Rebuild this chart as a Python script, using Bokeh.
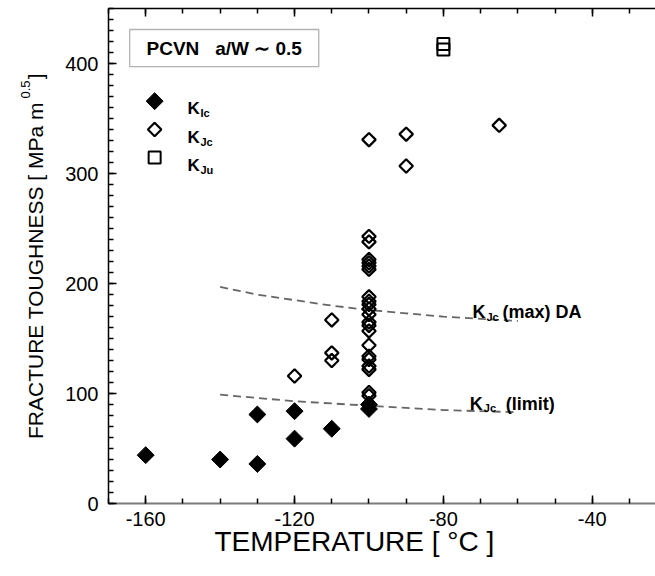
import numpy as np
from bokeh.plotting import figure
from bokeh.models import (LinearAxis, SingleIntervalTicker, PrintfTickFormatter,
                          CustomJSTickFormatter, Label, BoxAnnotation, Range1d, Title)
from bokeh.embed import file_html
from bokeh.resources import INLINE

# ---------------- data ----------------
kic_temp = [-160, -140, -130, -130, -120, -120, -110, -100, -100]
kic_val = [44, 40, 36, 81, 84, 59, 68, 86, 90]

kjc_temp = [-120, -110, -110, -110,
            -100, -100, -100, -100, -100, -100, -100, -100, -100, -100, -100,
            -100, -100, -100, -100, -100, -100, -100, -100, -100, -100, -100,
            -90, -90, -65]
kjc_val = [116, 167, 137, 130,
           331, 243, 238, 222, 219, 216, 213, 188, 184, 181, 177, 172,
           165, 162, 157, 144, 134, 131, 125, 122, 101, 98,
           336, 307, 344]

kju_temp = [-80, -80]
kju_val = [413, 418]

curve_temp = [-140, -130, -120, -110, -100, -90, -80, -70, -60]
kjc_max_da = [197, 190, 185, 180, 176, 173, 170, 168, 166]
kjc_limit = [99, 96, 93, 91, 89, 87, 85, 84, 83]

x_ticks_interval = 40
y_ticks_interval = 100

SANS = "'Liberation Sans', Arial, sans-serif"
NBSP = "\u00a0"

# ---------------- figure ----------------
p = figure(width=655, height=576, x_range=Range1d(-170, -23.0), y_range=Range1d(0, 450.3),
           output_backend="svg", toolbar_location=None,
           x_axis_type=None, y_axis_type=None,
           min_border_left=108, min_border_right=0, min_border_top=8, min_border_bottom=73)
p.outline_line_color = None
p.background_fill_color = "white"
p.border_fill_color = "white"

xt = SingleIntervalTicker(interval=x_ticks_interval, num_minor_ticks=4)
yt = SingleIntervalTicker(interval=y_ticks_interval, num_minor_ticks=10)


def style_ticks(ax):
    ax.major_tick_in = 8
    ax.major_tick_out = 0
    ax.minor_tick_in = 5
    ax.minor_tick_out = 0
    ax.major_tick_line_color = "black"
    ax.minor_tick_line_color = "black"
    ax.major_tick_line_width = 1.5
    ax.minor_tick_line_width = 1.5


xb = LinearAxis(ticker=xt, formatter=PrintfTickFormatter(format="%d"))
style_ticks(xb)
xb.axis_line_color = "#7a7a7a"
xb.axis_line_width = 2
xb.major_label_text_font = SANS
xb.major_label_text_font_size = "20px"
xb.major_label_text_color = "black"
xb.major_label_standoff = 8
p.add_layout(xb, "below")

xa = LinearAxis(ticker=xt, formatter=CustomJSTickFormatter(code="return ''"))
style_ticks(xa)
xa.axis_line_color = "black"
xa.axis_line_width = 1.5
xa.major_label_text_font_size = "0px"
xa.major_label_standoff = 0
p.add_layout(xa, "above")

yl = LinearAxis(ticker=yt, formatter=PrintfTickFormatter(format="%d"))
style_ticks(yl)
yl.axis_line_color = "black"
yl.axis_line_width = 1.5
yl.major_label_text_font = SANS
yl.major_label_text_font_size = "20px"
yl.major_label_text_color = "black"
yl.major_label_standoff = 10
yl.axis_label = "FRACTURE TOUGHNESS [ MPa m" + NBSP * 4 + "]"
yl.axis_label_text_font = SANS
yl.axis_label_text_font_style = "normal"
yl.axis_label_text_font_size = "21px"
yl.axis_label_text_color = "black"
yl.axis_label_standoff = 15
p.add_layout(yl, "left")

# superscript of the y title
p.add_layout(Title(text="0.5", align="left", offset=405, standoff=-16,
                   text_font=SANS, text_font_style="normal", text_font_size="13px",
                   text_color="black"), "left")

# x title
p.add_layout(Title(text="TEMPERATURE [ \u00b0C ]", align="left", offset=106, standoff=-10,
                   text_font=SANS, text_font_style="normal", text_font_size="28px",
                   text_color="black"), "below")

# ---------------- curves ----------------
p.line(curve_temp, kjc_max_da, line_color="#666666", line_width=1.8, line_dash="8 5")
p.line(curve_temp, kjc_limit, line_color="#666666", line_width=1.8, line_dash="8 5")

# ---------------- points ----------------
p.scatter(kjc_temp, kjc_val, marker="square", angle=np.pi / 4, size=9.5,
          fill_color="white", fill_alpha=0.0, line_color="black", line_width=2.2)
p.scatter(kic_temp, kic_val, marker="square", angle=np.pi / 4, size=12,
          fill_color="black", line_color="black", line_width=1)
p.scatter(kju_temp, kju_val, marker="square", size=12,
          fill_color="white", fill_alpha=0.0, line_color="black", line_width=2)

# ---------------- legend box ----------------
p.add_layout(BoxAnnotation(left=-164.3, right=-113.5, bottom=397.5, top=431.2,
                           fill_alpha=0, line_color="black", line_width=1.3))
p.add_layout(Label(x=-138.9, y=414.3,
                   text="PCVN" + NBSP * 3 + "a/W" + NBSP + "\u223c" + NBSP + "0.5",
                   text_align="center", text_baseline="middle", text_font=SANS,
                   text_font_style="bold", text_font_size="19px", text_color="black"))

leg_x = -157.6
leg_y = [366, 340.2, 314.7]
p.scatter([leg_x], [leg_y[0]], marker="square", angle=np.pi / 4, size=12,
          fill_color="black", line_color="black")
p.scatter([leg_x], [leg_y[1]], marker="square", angle=np.pi / 4, size=9.5,
          fill_alpha=0, line_color="black", line_width=2.2)
p.scatter([leg_x], [leg_y[2]], marker="square", size=12,
          fill_alpha=0, line_color="black", line_width=2)

leg_subs = ["Ic", "Jc", "Ju"]
leg_base = [359.7, 333.2, 307.5]
for sub, yb in zip(leg_subs, leg_base):
    p.add_layout(Label(x=-148.8, y=yb, text="K", text_baseline="alphabetic",
                       text_font=SANS, text_font_style="bold", text_font_size="17px",
                       text_color="black"))
    p.add_layout(Label(x=-148.8, y=yb, x_offset=13, y_offset=-5, text=sub,
                       text_baseline="alphabetic", text_font=SANS,
                       text_font_style="bold", text_font_size="11px", text_color="black"))


# ---------------- curve labels ----------------
def klabel(x, yb, rest, off):
    p.add_layout(Label(x=x, y=yb, text="K", text_baseline="alphabetic",
                       text_font=SANS, text_font_style="bold", text_font_size="18px",
                       text_color="black"))
    p.add_layout(Label(x=x, y=yb, x_offset=14, y_offset=-4.5, text="Jc",
                       text_baseline="alphabetic", text_font=SANS,
                       text_font_style="bold", text_font_size="11px", text_color="black"))
    p.add_layout(Label(x=x, y=yb, x_offset=off, text=rest,
                       text_baseline="alphabetic", text_font=SANS,
                       text_font_style="bold", text_font_size="18px", text_color="black"))


klabel(-72.2, 174.0, "(max) DA", 30)
klabel(-72.9, 90.7, "(limit)", 36)

open("out.html", "w").write(file_html(p, INLINE))
